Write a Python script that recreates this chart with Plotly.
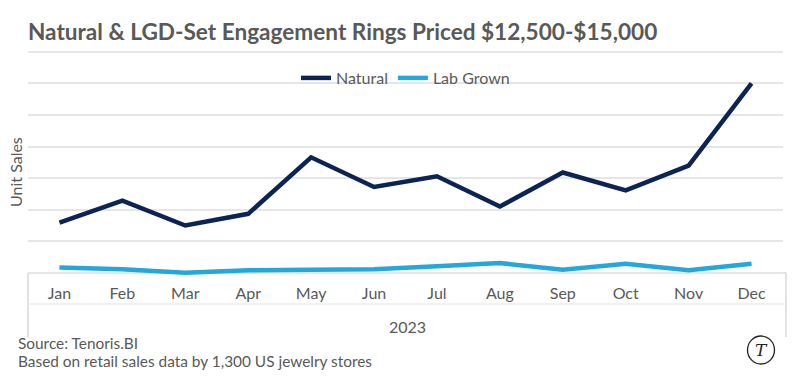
import plotly.graph_objects as go

months = ["Jan", "Feb", "Mar", "Apr", "May", "Jun", "Jul", "Aug", "Sep", "Oct", "Nov", "Dec"]
natural = [15.9, 22.9, 15.0, 18.7, 36.6, 27.2, 30.6, 21.0, 31.8, 26.1, 34.0, 60.0]
lab_grown = [1.7, 1.1, 0.0, 0.8, 1.0, 1.1, 2.1, 3.1, 1.0, 2.9, 0.8, 2.9]
year_label = "2023"
y_top = 70

W, H = 808, 376
L, R, T, B = 28, 25, 50, 100
PW, PH = W - L - R, H - T - B
FONT = "Lato, Liberation Sans, sans-serif"
GRAY = "#595959"
LINEGRAY = "#d9d9d9"
GRIDGRAY = "#e6e6e6"


def px(x):
    return (x - L) / PW


def py(y):
    return (H - B - y) / PH


fig = go.Figure()
fig.add_trace(go.Scatter(x=months, y=natural, name="Natural", mode="lines",
                         line=dict(color="#0c2454", width=4.5)))
fig.add_trace(go.Scatter(x=months, y=lab_grown, name="Lab Grown", mode="lines",
                         line=dict(color="#22a8da", width=4.5)))

shapes = [
    dict(type="line", xref="paper", yref="y", x0=0, x1=1, y0=y_top, y1=y_top,
         line=dict(color=GRIDGRAY, width=1.5), layer="below"),
    dict(type="line", xref="paper", yref="y", x0=0, x1=px(786), y0=0, y1=0,
         line=dict(color=LINEGRAY, width=1.5), layer="below"),
    dict(type="line", xref="paper", yref="paper", x0=0, x1=0, y0=py(273), y1=py(337),
         line=dict(color=LINEGRAY, width=1.5)),
    dict(type="line", xref="paper", yref="paper", x0=px(786), x1=px(786), y0=py(273), y1=py(337),
         line=dict(color=LINEGRAY, width=1.5)),
    dict(type="line", xref="paper", yref="paper", x0=0, x1=px(786), y0=py(304), y1=py(304),
         line=dict(color="#ececec", width=1.5)),
    dict(type="circle", xref="paper", yref="paper", x0=px(747.5), x1=px(774.5),
         y0=py(336), y1=py(364), line=dict(color="#222222", width=1.3)),
]

annotations = [
    dict(text=year_label, xref="paper", yref="paper", x=px(407), y=py(326),
         showarrow=False, font=dict(family=FONT, size=16, color=GRAY),
         xanchor="center", yanchor="middle"),
    dict(text="Unit Sales", xref="paper", yref="paper", x=px(15), y=py(172),
         textangle=-90, showarrow=False, font=dict(family=FONT, size=16, color=GRAY),
         xanchor="center", yanchor="middle"),
    dict(text="Source: Tenoris.BI", xref="paper", yref="paper", x=px(16), y=py(343),
         showarrow=False, font=dict(family=FONT, size=15.4, color=GRAY),
         xanchor="left", yanchor="middle"),
    dict(text="Based on retail sales data by 1,300 US jewelry stores", xref="paper", yref="paper",
         x=px(16), y=py(361), showarrow=False, font=dict(family=FONT, size=15.4, color=GRAY),
         xanchor="left", yanchor="middle"),
    dict(text="<i>T</i>", xref="paper", yref="paper", x=px(761), y=py(350),
         showarrow=False, font=dict(family="DejaVu Serif, serif", size=17, color="#222222"),
         xanchor="center", yanchor="middle"),
]

fig.update_layout(
    width=W, height=H,
    margin=dict(l=L, r=R, t=T, b=B),
    paper_bgcolor="white", plot_bgcolor="white",
    title=dict(text="Natural & LGD-Set Engagement Rings Priced $12,500-$15,000",
               xref="container", yref="container", x=L / W, xanchor="left",
               y=1 - 32 / H, yanchor="middle",
               font=dict(family=FONT, size=22.6, color=GRAY, weight="bold")),
    showlegend=True,
    legend=dict(orientation="h", x=0.5, xanchor="center", y=py(78), yanchor="middle",
                bgcolor="rgba(0,0,0,0)", font=dict(family=FONT, size=16, color=GRAY),
                itemwidth=30),
    xaxis=dict(type="category", showgrid=False, showline=False, zeroline=False,
               ticks="", tickfont=dict(family=FONT, size=16, color=GRAY),
               ticklabelstandoff=6, range=[-0.5, 11.5]),
    yaxis=dict(range=[-1, 70.6], dtick=10, tick0=0, showticklabels=False,
               showgrid=True, gridcolor=GRIDGRAY, gridwidth=1.5,
               zeroline=False, showline=False, ticks=""),
    shapes=shapes,
    annotations=annotations,
)

fig.write_html("out.html", config={"displayModeBar": False},
               post_script="document.body.style.margin='0';")
